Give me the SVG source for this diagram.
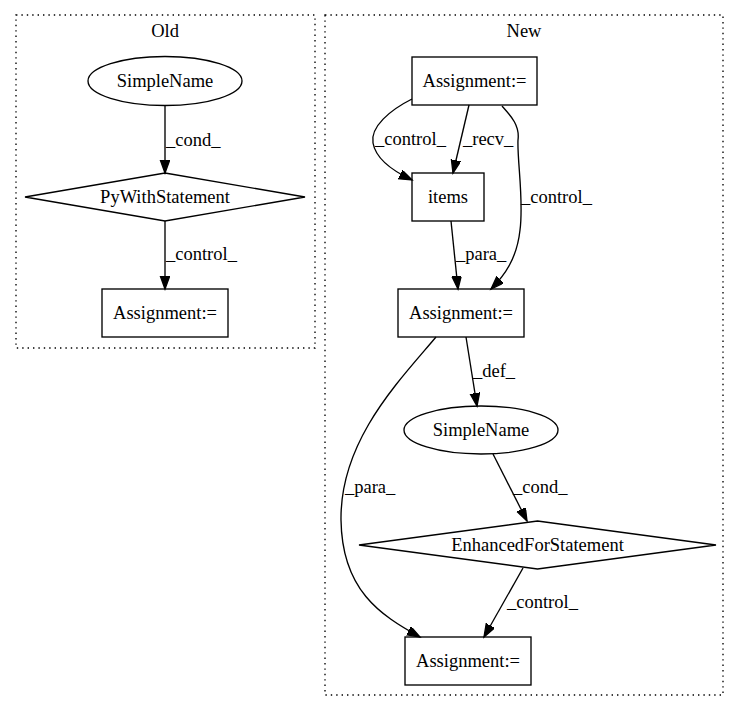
<svg xmlns="http://www.w3.org/2000/svg" width="739" height="712" viewBox="0 0 739 712">
<style>
text{font-family:"Liberation Serif","Times New Roman",serif;font-size:18.5px;fill:#000}
.n{text-anchor:middle}
.shape{fill:none;stroke:#000;stroke-width:1.35}
.cl{fill:none;stroke:#000;stroke-width:1.35;stroke-dasharray:1.4,4}
.e{fill:none;stroke:#000;stroke-width:1.35;marker-end:url(#arr)}
</style>
<defs>
<marker id="arr" markerUnits="userSpaceOnUse" markerWidth="16" markerHeight="12" refX="13" refY="4.7" orient="auto">
<path d="M0,0 L13,4.7 L0,9.4 Z" fill="#000" stroke="#000" stroke-width="1.35"/>
</marker>
</defs>
<rect width="739" height="712" fill="#fff"/>
<g id="cluster-old">
<rect class="cl" x="16" y="15" width="299" height="333"/>
<text class="n" x="165" y="37">Old</text>
</g>
<g id="cluster-new">
<rect class="cl" x="325" y="15" width="398" height="680"/>
<text class="n" x="524" y="37">New</text>
</g>
<g id="old-simplename">
<ellipse class="shape" cx="165" cy="81" rx="77" ry="24.5"/>
<text class="n" x="165" y="87">SimpleName</text>
</g>
<g id="old-pywith">
<polygon class="shape" points="165,173 305,197 165,221 25,197"/>
<text class="n" x="165" y="203">PyWithStatement</text>
</g>
<g id="old-assign">
<rect class="shape" x="102" y="289" width="126" height="48"/>
<text class="n" x="165" y="319">Assignment:=</text>
</g>
<g id="new-assign-top">
<rect class="shape" x="412" y="57" width="125" height="48"/>
<text class="n" x="474.5" y="87">Assignment:=</text>
</g>
<g id="new-items">
<rect class="shape" x="412" y="173" width="72" height="48"/>
<text class="n" x="448" y="203">items</text>
</g>
<g id="new-assign-mid">
<rect class="shape" x="398" y="289" width="126" height="48"/>
<text class="n" x="461" y="319">Assignment:=</text>
</g>
<g id="new-simplename">
<ellipse class="shape" cx="481" cy="430" rx="77" ry="24"/>
<text class="n" x="481" y="436">SimpleName</text>
</g>
<g id="new-efs">
<polygon class="shape" points="537.5,521 716,545 537.5,569 359,545"/>
<text class="n" x="537.5" y="551">EnhancedForStatement</text>
</g>
<g id="new-assign-bottom">
<rect class="shape" x="405" y="637" width="126" height="48"/>
<text class="n" x="468" y="667">Assignment:=</text>
</g>
<g id="edges">
<path class="e" d="M165,106 L165,173"/>
<text x="166" y="146">_cond_</text>
<path class="e" d="M165,221 L165,289"/>
<text x="166" y="260">_control_</text>
<path class="e" d="M412,99 C390,110 370,127 373,143 C376,160 395,172 412,180"/>
<text x="375" y="145">_control_</text>
<path class="e" d="M469,105 L453,173"/>
<text x="463" y="145">_recv_</text>
<path class="e" d="M502,106 C510,115 520,125 518,140 C517,160 524,200 520,230 C517,258 505,275 491,289"/>
<text x="521" y="203">_control_</text>
<path class="e" d="M451,221 L458,289"/>
<text x="456" y="260">_para_</text>
<path class="e" d="M466,337 L477,406"/>
<text x="473" y="377">_def_</text>
<path class="e" d="M436,337 C400,380 340,440 341,520 C342,590 380,615 420,637"/>
<text x="345" y="493">_para_</text>
<path class="e" d="M493,454 L527,521"/>
<text x="513" y="493">_cond_</text>
<path class="e" d="M523,568 L484,637"/>
<text x="507" y="608">_control_</text>
</g>
</svg>
